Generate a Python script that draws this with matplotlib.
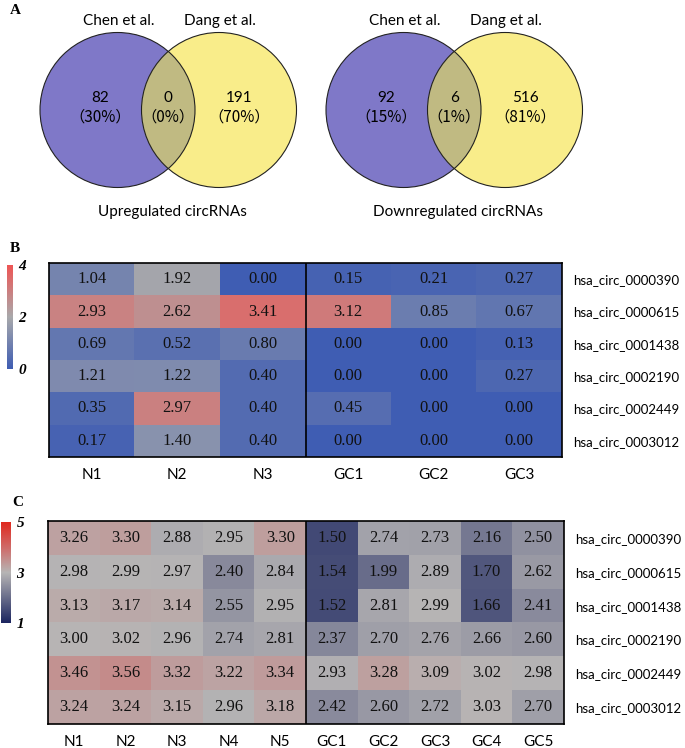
import numpy as np
import matplotlib
matplotlib.use("Agg")
import matplotlib.pyplot as plt
from matplotlib.colors import LinearSegmentedColormap
from matplotlib.patches import Circle

# --- data ---
venn_titles = ["Upregulated circRNAs", "Downregulated circRNAs"]
venn_sets = ["Chen et al.", "Dang et al."]
venn_counts = [[82, 0, 191], [92, 6, 516]]
venn_pct = [["30%", "0%", "70%"], ["15%", "1%", "81%"]]

genes = ["hsa_circ_0000390", "hsa_circ_0000615", "hsa_circ_0001438",
         "hsa_circ_0002190", "hsa_circ_0002449", "hsa_circ_0003012"]

cols_b = ["N1", "N2", "N3", "GC1", "GC2", "GC3"]
vals_b = np.array([
    [1.04, 1.92, 0.00, 0.15, 0.21, 0.27],
    [2.93, 2.62, 3.41, 3.12, 0.85, 0.67],
    [0.69, 0.52, 0.80, 0.00, 0.00, 0.13],
    [1.21, 1.22, 0.40, 0.00, 0.00, 0.27],
    [0.35, 2.97, 0.40, 0.45, 0.00, 0.00],
    [0.17, 1.40, 0.40, 0.00, 0.00, 0.00],
])

cols_c = ["N1", "N2", "N3", "N4", "N5", "GC1", "GC2", "GC3", "GC4", "GC5"]
vals_c = np.array([
    [3.26, 3.30, 2.88, 2.95, 3.30, 1.50, 2.74, 2.73, 2.16, 2.50],
    [2.98, 2.99, 2.97, 2.40, 2.84, 1.54, 1.99, 2.89, 1.70, 2.62],
    [3.13, 3.17, 3.14, 2.55, 2.95, 1.52, 2.81, 2.99, 1.66, 2.41],
    [3.00, 3.02, 2.96, 2.74, 2.81, 2.37, 2.70, 2.76, 2.66, 2.60],
    [3.46, 3.56, 3.32, 3.22, 3.34, 2.93, 3.28, 3.09, 3.02, 2.98],
    [3.24, 3.24, 3.15, 2.96, 3.18, 2.42, 2.60, 2.72, 3.03, 2.70],
])

serif = "Liberation Serif"
sans = "Lato"

cmap_b = LinearSegmentedColormap.from_list("b", ["#3f5db3", "#a9a9ab", "#ee5655"])
cmap_c = LinearSegmentedColormap.from_list(
    "c", [(0, "#1c2660"), (0.5, "#b7b5b5"), (0.75, "#cf6a68"), (1, "#e02a20")])

fig = plt.figure(figsize=(6.85, 7.48), dpi=100)

# --- A : venn diagrams (pixel coords) ---
axv = fig.add_axes([0, 1 - 230 / 748, 1, 230 / 748])
axv.set_xlim(0, 685)
axv.set_ylim(230, 0)
axv.axis("off")
centers = [(117.5, 219), (403.5, 505)]
cy, r = 110, 77.5
for k in range(2):
    xl, xr = centers[k]
    axv.add_patch(Circle((xl, cy), r, facecolor="#7f78c8", edgecolor="none", zorder=1))
    axv.add_patch(Circle((xr, cy), r, facecolor="#f9ed8a", edgecolor="none", zorder=2))
    # overlap drawn via clip
    ov = Circle((xr, cy), r, facecolor="#c0ba82", edgecolor="none", zorder=3)
    axv.add_patch(ov)
    clip = Circle((xl, cy), r, transform=axv.transData)
    ov.set_clip_path(clip)
    for x in (xl, xr):
        axv.add_patch(Circle((x, cy), r, facecolor="none", edgecolor="#222222", lw=0.8, zorder=4))
    xs = [xl - 17, (xl + xr) / 2, xr + 20]
    for x, n, p in zip(xs, venn_counts[k], venn_pct[k]):
        axv.text(x, 98, str(n), ha="center", va="center", fontsize=11, family=sans, zorder=5)
        axv.text(x, 117, "\uff08" + p + "\uff09", ha="center", va="center", fontsize=11,
                 family=["Noto Sans CJK SC", sans], zorder=5)
    axv.text(xl + 1, 21, venn_sets[0], ha="center", va="center", fontsize=11, family=sans)
    axv.text(xr + 1, 21, venn_sets[1], ha="center", va="center", fontsize=11, family=sans)
    axv.text((xl + xr) / 2 + 4, 212, venn_titles[k], ha="center", va="center", fontsize=11, family=sans)
axv.text(10, 10, "A", ha="left", va="center", fontsize=11, family=serif, weight="bold")


def heat(rect, cbrect, vals, cols, cmap, vmin, vmax, ticks, split, letter, lpos):
    ax = fig.add_axes(rect)
    nr, nc = vals.shape
    ax.imshow(vals, cmap=cmap, vmin=vmin, vmax=vmax, aspect="auto",
              extent=(0, nc, nr, 0), interpolation="nearest")
    for i in range(nr):
        for j in range(nc):
            ax.text(j + 0.5, i + 0.5, f"{vals[i, j]:.2f}", ha="center", va="center",
                    fontsize=12, family=serif, color="#111111")
    ax.axvline(split, color="black", lw=1.2)
    ax.set_xticks(np.arange(nc) + 0.5)
    ax.set_xticklabels(cols, family=sans, fontsize=11)
    ax.set_yticks(np.arange(nr) + 0.5)
    ax.set_yticklabels(genes, family=sans, fontsize=9.5)
    ax.yaxis.tick_right()
    ax.tick_params(axis="x", length=0, pad=8)
    ax.tick_params(axis="y", length=0, pad=8)
    for s in ax.spines.values():
        s.set_linewidth(1.2)
    # colorbar
    cax = fig.add_axes(cbrect)
    grad = np.linspace(vmax, vmin, 200).reshape(-1, 1)
    cax.imshow(grad, cmap=cmap, vmin=vmin, vmax=vmax, aspect="auto",
               extent=(0, 1, vmin, vmax))
    cax.set_xticks([])
    cax.yaxis.tick_right()
    cax.set_yticks(ticks)
    cax.set_yticklabels([str(t) for t in ticks], family=serif, style="italic",
                        weight="bold", fontsize=11)
    cax.tick_params(length=0, pad=4)
    for s in cax.spines.values():
        s.set_visible(False)
    fig.text(lpos[0] / 685, 1 - lpos[1] / 748, letter, ha="left", va="center",
             fontsize=11, family=serif, weight="bold")


heat([49 / 685, 1 - 457 / 748, 513 / 685, 194 / 748],
     [7 / 685, 1 - 369 / 748, 6 / 685, 104 / 748],
     vals_b, cols_b, cmap_b, 0, 4, [0, 2, 4], 3, "B", (10, 248))
heat([48 / 685, 1 - 724 / 748, 516 / 685, 203 / 748],
     [1 / 685, 1 - 623 / 748, 10 / 685, 101 / 748],
     vals_c, cols_c, cmap_c, 1, 5, [1, 3, 5], 5, "C", (12, 502))

fig.savefig("out.png", dpi=100)
